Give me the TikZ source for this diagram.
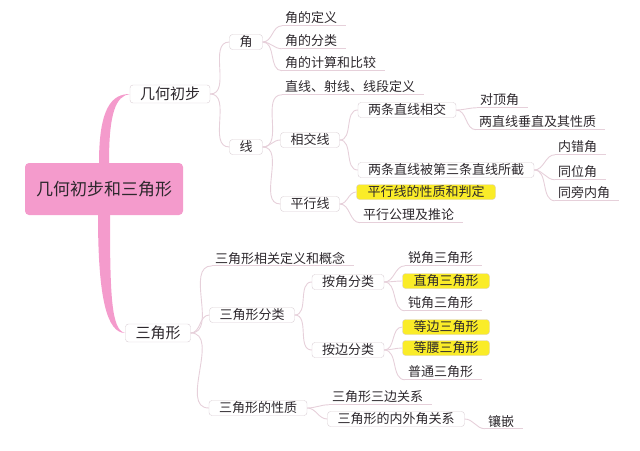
\documentclass[tikz,border=0pt]{standalone}
\usepackage{fontspec}
\newfontfamily\cjk{Noto Sans CJK SC}
\definecolor{rootpink}{RGB}{244,155,204}
\definecolor{linec}{RGB}{230,208,218}
\definecolor{boxc}{RGB}{218,206,212}
\definecolor{hlyellow}{RGB}{250,236,40}
\definecolor{textc}{RGB}{45,40,45}
\tikzset{
	every node/.style={text=textc},
	conn/.style={draw=linec, line width=0.9pt, out=0, in=180},
	rootbox/.style={fill=rootpink, rounded corners=4pt, minimum width=158pt, minimum height=52pt, font=\cjk\fontsize{17}{19}\selectfont},
	topic/.style={draw=boxc, fill=white, rounded corners=3pt, inner xsep=10pt, inner ysep=1.5pt, minimum height=18pt, font=\cjk\fontsize{15}{17}\selectfont},
	sub/.style={draw=boxc, fill=white, rounded corners=3pt, inner xsep=10pt, inner ysep=1pt, minimum height=15pt, font=\cjk\fontsize{13}{15}\selectfont},
	hl/.style={sub, fill=hlyellow, inner xsep=11pt},
	leaf/.style={anchor=west, inner xsep=3pt, inner ysep=1.5pt, font=\cjk\fontsize{13}{15}\selectfont,
		append after command={(\tikzlastnode.south west) edge[draw=linec, line width=0.9pt] ([xshift=6pt]\tikzlastnode.south east)}},
}
\begin{document}
\begin{tikzpicture}[x=1pt, y=-1pt]
			\useasboundingbox (0,0) rectangle (640,450);
			\node	(root) at (104,189) [rootbox] {几何初步和三角形};
			\node	(geo) at (170,94) [topic] {几何初步};
			\node	(tri) at (158,333) [topic] {三角形};
			% 几何初步
			\node	(ang) at (246,42) [sub] {角};
			\node	(xian) at (246,147) [sub] {线};
			\node	(angdef) at (282,18) [leaf] {角的定义};
			\node	(angcls) at (282,41) [leaf] {角的分类};
			\node	(angcal) at (282,63) [leaf] {角的计算和比较};
			\node	(lndef) at (282,87) [leaf] {直线、射线、线段定义};
			\node	(cross) at (310,140) [sub] {相交线};
			\node	(para) at (310,204) [sub] {平行线};
			\node	(cross1) at (407,110) [sub] {两条直线相交};
			\node	(cross2) at (446,170) [sub] {两条直线被第三条直线所截};
			\node	(vert) at (477,100) [leaf] {对顶角};
			\node	(perp) at (476,122) [leaf] {两直线垂直及其性质};
			\node	(alt) at (555,147) [leaf] {内错角};
			\node	(corr) at (555,172) [leaf] {同位角};
			\node	(inner) at (555,193) [leaf] {同旁内角};
			\node	(parap) at (426,192) [hl, minimum width=138pt] {平行线的性质和判定};
			\node	(axiom) at (360,215) [leaf] {平行公理及推论};
			% 三角形
			\node	(tdef) at (212,258) [leaf] {三角形相关定义和概念};
			\node	(tcls) at (252,315) [sub] {三角形分类};
			\node	(tprop) at (258,408) [sub] {三角形的性质};
			\node	(byang) at (348,282) [sub] {按角分类};
			\node	(byside) at (348,350) [sub] {按边分类};
			\node	(acute) at (405,258) [leaf] {锐角三角形};
			\node	(rectang) at (446,281) [hl] {直角三角形};
			\node	(obtuse) at (405,303) [leaf] {钝角三角形};
			\node	(equil) at (446,327) [hl] {等边三角形};
			\node	(isosc) at (446,348) [hl] {等腰三角形};
			\node	(scalene) at (405,372) [leaf] {普通三角形};
			\node	(sides) at (329,397) [leaf] {三角形三边关系};
			\node	(angrel) at (396,419) [sub] {三角形的内外角关系};
			\node	(tile) at (485,421) [leaf] {镶嵌};
			\fill[rootpink] ([xshift=-5pt]root.north) .. controls +(0,-55) and +(-18,0) .. (geo.west)
				.. controls +(-14,2) and +(0,-50) .. ([xshift=5pt]root.north) -- cycle;
			\fill[rootpink] ([xshift=-6pt]root.south) .. controls +(0,85) and +(-18,0) .. (tri.west)
				.. controls +(-14,-2) and +(0,80) .. ([xshift=6pt]root.south) -- cycle;
			\draw 
			(geo) edge[conn] (ang)
			(geo) edge[conn] (xian)
			(ang) edge[conn] (angdef.south west)
			(ang) edge[conn] (angcls.south west)
			(ang) edge[conn] (angcal.south west)
			(xian) edge[conn] (lndef.south west)
			(xian) edge[conn] (cross)
			(xian) edge[conn] (para)
			(cross) edge[conn] (cross1)
			(cross) edge[conn] (cross2)
			(cross1) edge[conn] (vert.south west)
			(cross1) edge[conn] (perp.south west)
			(cross2) edge[conn] (alt.south west)
			(cross2) edge[conn] (corr.south west)
			(cross2) edge[conn] (inner.south west)
			(para) edge[conn] (parap)
			(para) edge[conn] (axiom.south west)
			
			(tri) edge[conn] (tdef.south west)
			(tri) edge[conn] (tcls)
			(tri) edge[conn] (tprop)
			(tcls) edge[conn] (byang)
			(tcls) edge[conn] (byside)
			(byang) edge[conn] (acute.south west)
			(byang) edge[conn] (rectang)
			(byang) edge[conn] (obtuse.south west)
			(byside) edge[conn] (equil)
			(byside) edge[conn] (isosc)
			(byside) edge[conn] (scalene.south west)
			(tprop) edge[conn] (sides.south west)
			(tprop) edge[conn] (angrel)
			(angrel) edge[conn] (tile.south west)
			;
		\end{tikzpicture}
\end{document}
